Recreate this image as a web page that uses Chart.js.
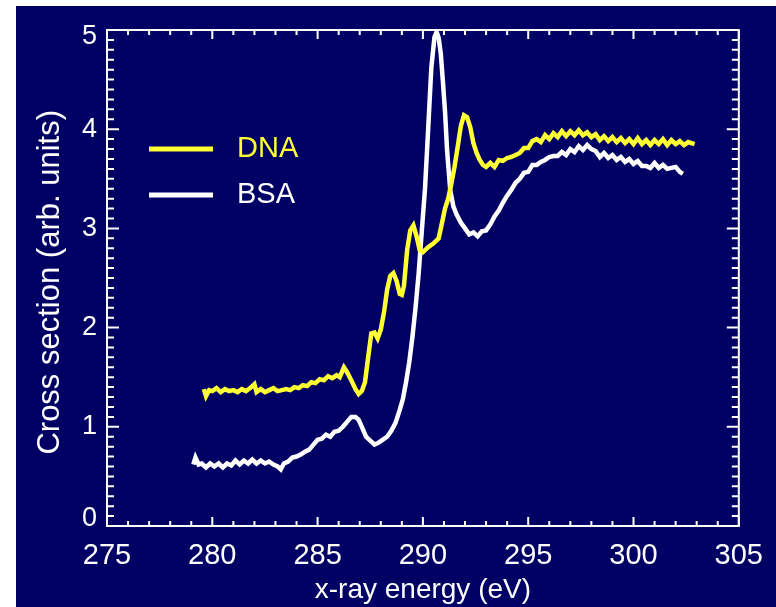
<!DOCTYPE html>
<html lang="en">
<head>
  <meta charset="UTF-8" />
  <title>DNA / BSA cross section</title>
  <script src="https://cdn.jsdelivr.net/npm/chart.js"></script>
  <style>
    body {
      margin: 0;
      padding: 0;
      background: #fff;
    }

    .chart-container {
      position: absolute;
      left: 16px;
      top: 6px;
      width: 760px;
      height: 601px;
    }

    canvas {
      background: #000064;
    }
  </style>
</head>
<body>
  <div class="chart-container">
    <canvas id="spectrumChart" width="760" height="601"></canvas>
  </div>

  <script>
    // DNA spectrum: photon energy (eV) and cross section (arb. units)
    const dnaEnergy = [
      279.60, 279.70, 279.85, 280.00, 280.20, 280.40, 280.60, 280.80, 281.00, 281.20,
      281.40, 281.60, 281.80, 282.00, 282.10, 282.30, 282.50, 282.70, 282.90, 283.10,
      283.30, 283.50, 283.70, 283.90, 284.10, 284.30, 284.50, 284.70, 284.90, 285.10,
      285.30, 285.50, 285.70, 285.90, 286.05, 286.25, 286.40, 286.60, 286.80, 286.95,
      287.10, 287.25, 287.40, 287.55, 287.70, 287.85, 288.00, 288.15, 288.30, 288.45,
      288.60, 288.75, 288.90, 289.00, 289.10, 289.25, 289.40, 289.55, 289.70, 289.85,
      290.00, 290.15, 290.30, 290.45, 290.60, 290.75, 290.90, 291.05, 291.20, 291.35,
      291.50, 291.65, 291.80, 291.95, 292.10, 292.25, 292.40, 292.55, 292.70, 292.85,
      293.00, 293.20, 293.40, 293.60, 293.80, 294.00, 294.20, 294.40, 294.60, 294.80,
      295.00, 295.20, 295.40, 295.60, 295.80, 296.00, 296.20, 296.40, 296.60, 296.80,
      297.00, 297.20, 297.40, 297.60, 297.80, 298.00, 298.20, 298.40, 298.60, 298.80,
      299.00, 299.20, 299.40, 299.60, 299.80, 300.00, 300.20, 300.40, 300.60, 300.80,
      301.00, 301.20, 301.40, 301.60, 301.80, 302.00, 302.20, 302.40, 302.60, 302.90
    ];
    const dnaValue = [
      1.38, 1.31, 1.37, 1.36, 1.39, 1.35, 1.38, 1.36, 1.37, 1.35,
      1.38, 1.36, 1.39, 1.43, 1.35, 1.38, 1.35, 1.37, 1.39, 1.36,
      1.37, 1.38, 1.37, 1.40, 1.39, 1.42, 1.41, 1.45, 1.44, 1.48,
      1.47, 1.51, 1.49, 1.52, 1.50, 1.60, 1.55, 1.47, 1.38, 1.33,
      1.36, 1.45, 1.70, 1.94, 1.95, 1.89, 1.98, 2.15, 2.38, 2.52,
      2.55, 2.47, 2.34, 2.33, 2.42, 2.78, 2.98, 3.03, 2.92, 2.78,
      2.76, 2.79, 2.82, 2.84, 2.87, 2.90, 3.05, 3.20, 3.30, 3.45,
      3.62, 3.82, 4.03, 4.14, 4.12, 4.02, 3.86, 3.76, 3.69, 3.64,
      3.62, 3.66, 3.62, 3.69, 3.68, 3.71, 3.72, 3.74, 3.76, 3.81,
      3.81, 3.88, 3.90, 3.87, 3.94, 3.90, 3.96, 3.92, 3.98, 3.93,
      3.98, 3.94, 3.99, 3.94, 3.97, 3.92, 3.95, 3.89, 3.93, 3.88,
      3.92, 3.87, 3.91, 3.86, 3.90, 3.85, 3.91, 3.85, 3.89, 3.84,
      3.89, 3.85, 3.90, 3.84, 3.89, 3.85, 3.88, 3.84, 3.87, 3.85
    ];

    // BSA spectrum
    const bsaEnergy = [
      279.10, 279.20, 279.35, 279.50, 279.70, 279.90, 280.10, 280.30, 280.50, 280.70,
      280.90, 281.10, 281.30, 281.50, 281.70, 281.90, 282.10, 282.30, 282.50, 282.70,
      282.90, 283.10, 283.25, 283.40, 283.60, 283.80, 284.00, 284.20, 284.40, 284.60,
      284.80, 285.00, 285.20, 285.40, 285.60, 285.80, 286.00, 286.20, 286.40, 286.60,
      286.80, 286.95, 287.10, 287.30, 287.50, 287.70, 287.90, 288.10, 288.30, 288.50,
      288.70, 288.90, 289.05, 289.20, 289.35, 289.50, 289.65, 289.80, 289.95, 290.10,
      290.25, 290.40, 290.55, 290.65, 290.75, 290.85, 290.95, 291.05, 291.15, 291.30,
      291.45, 291.60, 291.80, 292.00, 292.20, 292.40, 292.60, 292.80, 293.00, 293.20,
      293.40, 293.60, 293.80, 294.00, 294.20, 294.40, 294.60, 294.80, 295.00, 295.20,
      295.40, 295.60, 295.80, 296.00, 296.20, 296.40, 296.60, 296.80, 297.00, 297.20,
      297.40, 297.60, 297.80, 298.00, 298.20, 298.40, 298.60, 298.80, 299.00, 299.20,
      299.40, 299.60, 299.80, 300.00, 300.20, 300.40, 300.60, 300.80, 301.00, 301.20,
      301.40, 301.60, 301.80, 302.00, 302.20, 302.34
    ];
    const bsaValue = [
      0.62, 0.69, 0.62, 0.63, 0.59, 0.63, 0.60, 0.63, 0.59, 0.63,
      0.61, 0.66, 0.62, 0.66, 0.63, 0.67, 0.63, 0.66, 0.63, 0.65,
      0.62, 0.60, 0.57, 0.63, 0.65, 0.69, 0.70, 0.72, 0.75, 0.77,
      0.82, 0.87, 0.88, 0.92, 0.90, 0.95, 0.96, 1.00, 1.05, 1.10,
      1.10, 1.07, 1.00, 0.90, 0.86, 0.82, 0.84, 0.87, 0.90, 0.96,
      1.04, 1.17, 1.28, 1.45, 1.65, 1.90, 2.20, 2.55, 2.98, 3.40,
      4.00, 4.62, 4.93, 4.98, 4.92, 4.76, 4.48, 4.18, 3.78, 3.38,
      3.22, 3.14, 3.06, 3.00, 2.94, 2.96, 2.92, 2.97, 2.98, 3.04,
      3.12, 3.18, 3.26, 3.33, 3.39, 3.46, 3.50, 3.56, 3.57, 3.64,
      3.64, 3.67, 3.69, 3.72, 3.73, 3.73, 3.77, 3.74, 3.80, 3.77,
      3.83, 3.79, 3.84, 3.80, 3.78, 3.72, 3.76, 3.71, 3.74, 3.69,
      3.72, 3.67, 3.70, 3.65, 3.68, 3.63, 3.63, 3.61, 3.66, 3.61,
      3.64, 3.60, 3.61, 3.62, 3.57, 3.55
    ];

    const toPoints = (xs, ys) => xs.map((x, i) => ({ x: x, y: ys[i] }));

    Chart.defaults.font.family = "'Liberation Sans', Arial, sans-serif";
    Chart.defaults.color = '#ffffff';

    // box around the plot with inward ticks on all four sides
    const framePlugin = {
      id: 'frame',
      afterDraw(chart) {
        const { ctx, chartArea: a, scales } = chart;
        const xs = scales.x, ys = scales.y;
        ctx.save();
        ctx.strokeStyle = '#ffffff';
        ctx.lineWidth = 2;
        ctx.strokeRect(a.left, a.top, a.right - a.left, a.bottom - a.top);
        ctx.beginPath();
        for (let v = xs.min; v <= xs.max + 1e-6; v += 1) {
          const px = xs.getPixelForValue(v);
          const len = Math.abs(v % 5) < 1e-6 ? 9 : 5;
          ctx.moveTo(px, a.bottom); ctx.lineTo(px, a.bottom - len);
          ctx.moveTo(px, a.top); ctx.lineTo(px, a.top + len);
        }
        for (let k = 0; k <= 50; k++) {
          const py = ys.getPixelForValue(ys.min + k * 0.1);
          const len = k % 10 === 0 ? 12 : 7;
          ctx.moveTo(a.left, py); ctx.lineTo(a.left + len, py);
          ctx.moveTo(a.right, py); ctx.lineTo(a.right - len, py);
        }
        ctx.stroke();
        ctx.restore();
      }
    };

    // line-sample legend inside the plot, text in each series colour
    const legendPlugin = {
      id: 'lineLegend',
      afterDraw(chart) {
        const { ctx, chartArea: a } = chart;
        ctx.save();
        ctx.font = "29px 'Liberation Sans', Arial, sans-serif";
        ctx.textBaseline = 'middle';
        chart.data.datasets.forEach((ds, i) => {
          const y = a.top + 119 + i * 46;
          ctx.strokeStyle = ds.borderColor;
          ctx.lineWidth = 5;
          ctx.beginPath();
          ctx.moveTo(a.left + 42, y);
          ctx.lineTo(a.left + 106, y);
          ctx.stroke();
          ctx.fillStyle = ds.borderColor;
          ctx.fillText(ds.label, a.left + 130, y);
        });
        ctx.restore();
      }
    };

    const config = {
      type: 'line',
      data: {
        datasets: [
          {
            label: 'DNA',
            data: toPoints(dnaEnergy, dnaValue),
            borderColor: '#ffff33',
            borderWidth: 4.5,
            pointRadius: 0,
            tension: 0
          },
          {
            label: 'BSA',
            data: toPoints(bsaEnergy, bsaValue),
            borderColor: '#ffffff',
            borderWidth: 4.5,
            pointRadius: 0,
            tension: 0
          }
        ]
      },
      options: {
        responsive: false,
        animation: false,
        layout: {
          padding: { top: 21, right: 27, left: 0, bottom: 0 }
        },
        plugins: {
          legend: { display: false },
          tooltip: { enabled: false }
        },
        scales: {
          x: {
            type: 'linear',
            min: 275,
            max: 305,
            grid: { display: false, drawTicks: false },
            border: { display: false },
            ticks: {
              stepSize: 5,
              padding: 13,
              maxRotation: 0,
              font: { size: 29 }
            },
            title: {
              display: true,
              text: 'x-ray energy (eV)',
              font: { size: 28 },
              padding: { top: 0, bottom: 0 }
            },
            afterFit: scale => { scale.height = 81; }
          },
          y: {
            min: 0,
            max: 5,
            grid: { display: false, drawTicks: false },
            border: { display: false },
            ticks: {
              stepSize: 1,
              padding: 10,
              font: { size: 27, lineHeight: '14px' },
              // the end labels sit just inside the axis ends
              callback: v => v === 5 ? ['', '5'] : v === 0 ? ['0', ''] : String(v)
            },
            title: {
              display: true,
              text: 'Cross section (arb. units) ',
              font: { size: 31 },
              padding: { top: 16, bottom: 0 }
            },
            afterFit: scale => { scale.width = 91; }
          }
        }
      },
      plugins: [framePlugin, legendPlugin]
    };

    new Chart(document.getElementById('spectrumChart').getContext('2d'), config);
  </script>
</body>
</html>
